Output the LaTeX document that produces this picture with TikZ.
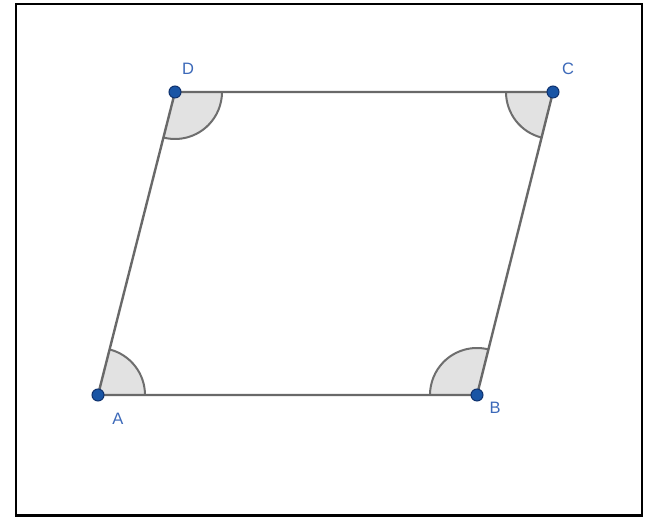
\documentclass[tikz,border=0pt]{standalone}
\usepackage{fontspec}
\setmainfont{Liberation Sans}
\usetikzlibrary{calc}
\definecolor{segcol}{RGB}{105,105,105}
\definecolor{arccol}{RGB}{110,110,110}
\definecolor{sectfill}{RGB}{226,226,226}
\definecolor{ptfill}{RGB}{25,85,165}
\definecolor{ptdraw}{RGB}{15,50,110}
\definecolor{lblcol}{RGB}{60,105,185}
\begin{document}
\begin{tikzpicture}[x=1pt,y=1pt,
  seg/.style={draw=segcol,line width=2.4pt},
  sector/.style={fill=sectfill},
  anglearc/.style={draw=arccol,line width=2pt},
  pt/.style={circle,fill=ptfill,draw=ptdraw,line width=1pt,inner sep=0pt,minimum size=12pt},
  lbl/.style={text=lblcol,font=\fontsize{16.5}{18}\selectfont,inner sep=0pt}]
\useasboundingbox (0,0) rectangle (648,518);
\fill[white] (0,0) rectangle (648,518);
\draw[black,line width=2.4pt] (16,2.5) rectangle (642,514);
\coordinate (A) at (98,123);
\coordinate (B) at (477,123);
\coordinate (C) at (553,426);
\coordinate (D) at (175,426);
% angle sectors
\fill[sector] (A) -- ++(0:47) arc[start angle=0,end angle=75.7,radius=47] -- cycle;
\fill[sector] (B) -- ++(75.9:47) arc[start angle=75.9,end angle=180,radius=47] -- cycle;
\fill[sector] (C) -- ++(180:47) arc[start angle=180,end angle=255.9,radius=47] -- cycle;
\fill[sector] (D) -- ++(255.7:47) arc[start angle=255.7,end angle=360,radius=47] -- cycle;
\draw[anglearc] ($(A)+(0:47)$) arc[start angle=0,end angle=75.7,radius=47];
\draw[anglearc] ($(B)+(75.9:47)$) arc[start angle=75.9,end angle=180,radius=47];
\draw[anglearc] ($(C)+(180:47)$) arc[start angle=180,end angle=255.9,radius=47];
\draw[anglearc] ($(D)+(255.7:47)$) arc[start angle=255.7,end angle=360,radius=47];
% sides
\draw[seg] (A) -- (B) -- (C) -- (D) -- cycle;
% points
\node[pt] (pA) at (A) {};
\node[pt] (pB) at (B) {};
\node[pt] (pC) at (C) {};
\node[pt] (pD) at (D) {};
% labels
\node[lbl] (lA) at (118,99) {A};
\node[lbl] (lB) at (495,110) {B};
\node[lbl] (lC) at (568,449) {C};
\node[lbl] (lD) at (188,449) {D};
\end{tikzpicture}
\end{document}
